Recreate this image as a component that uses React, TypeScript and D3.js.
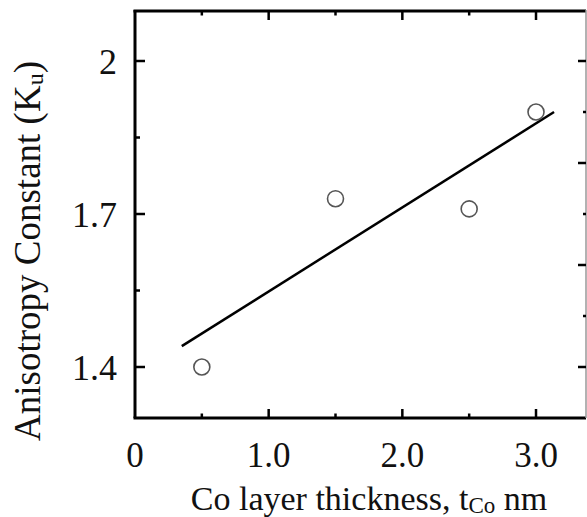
import React from "react";
import * as d3 from "d3";

const thicknessNm = [0.5, 1.5, 2.5, 3.0];
const anisotropyKu = [1.4, 1.73, 1.71, 1.9];
const fitX = [0.35, 3.135];
const fitY = [1.441, 1.9];
const xTickLabels = ["0", "1.0", "2.0", "3.0"];
const xMajorTicks = [0, 1, 2, 3];
const xMinorTicks = [0.5, 1.5, 2.5];
const yLeftMajor = [2.0, 1.7, 1.4];
const yLeftLabels = ["2", "1.7", "1.4"];
const yLeftMinor = [1.85, 1.55];
const yRightMajor = [2.0, 1.8, 1.6, 1.4];
const yRightMinor = [1.9, 1.7, 1.5];

const W = 587;
const H = 517;
const left = 135;
const right = 586;
const top = 10;
const bottom = 418;

export default function App() {
  const x = d3.scaleLinear().domain([0, 3.374]).range([left, right]);
  const y = d3.scaleLinear().domain([1.3, 2.1]).range([bottom, top]);
  const line = d3
    .line<number>()
    .x((d, i) => x(fitX[i]))
    .y((d) => y(d));
  const font = "'Liberation Serif', 'Times New Roman', serif";
  return (
    <svg
      width={W}
      height={H}
      style={{ position: "absolute", left: 0, top: 0, background: "#fff" }}
    >
      <rect x={0} y={0} width={W} height={H} fill="#fff" />
      {/* frame */}
      <line x1={left} x2={left} y1={top} y2={bottom} stroke="#000" strokeWidth={3} />
      <line x1={left - 1.5} x2={right} y1={top + 1} y2={top + 1} stroke="#000" strokeWidth={3} />
      <line x1={left - 1.5} x2={right} y1={bottom} y2={bottom} stroke="#000" strokeWidth={3} />
      <line x1={right} x2={right} y1={top} y2={bottom} stroke="#999" strokeWidth={1.5} />
      {/* x ticks */}
      {xMajorTicks.slice(1).map((t) => (
        <g key={"xM" + t}>
          <line x1={x(t)} x2={x(t)} y1={bottom} y2={bottom - 9} stroke="#000" strokeWidth={2.5} />
          <line x1={x(t)} x2={x(t)} y1={top + 1} y2={top + 10} stroke="#000" strokeWidth={2.5} />
        </g>
      ))}
      {xMinorTicks.map((t) => (
        <g key={"xm" + t}>
          <line x1={x(t)} x2={x(t)} y1={bottom} y2={bottom - 4.5} stroke="#000" strokeWidth={2.5} />
          <line x1={x(t)} x2={x(t)} y1={top + 1} y2={top + 5.5} stroke="#000" strokeWidth={2.5} />
        </g>
      ))}
      {/* y ticks left */}
      {yLeftMajor.map((t) => (
        <line key={"yl" + t} x1={left} x2={left + 10} y1={y(t)} y2={y(t)} stroke="#000" strokeWidth={2.5} />
      ))}
      {yLeftMinor.map((t) => (
        <line key={"ylm" + t} x1={left} x2={left + 5} y1={y(t)} y2={y(t)} stroke="#000" strokeWidth={2.5} />
      ))}
      {/* y ticks right */}
      {yRightMajor.map((t) => (
        <line key={"yr" + t} x1={right} x2={right - 8} y1={y(t)} y2={y(t)} stroke="#000" strokeWidth={2.5} />
      ))}
      {yRightMinor.map((t) => (
        <line key={"yrm" + t} x1={right} x2={right - 3} y1={y(t)} y2={y(t)} stroke="#000" strokeWidth={2.5} />
      ))}
      {/* tick labels */}
      {xMajorTicks.map((t, i) => (
        <text
          key={"xl" + t}
          x={x(t)}
          y={467}
          textAnchor="middle"
          fontFamily={font}
          fontSize={35}
          fill="#111"
        >
          {xTickLabels[i]}
        </text>
      ))}
      {yLeftMajor.map((t, i) => (
        <text
          key={"yll" + t}
          x={117}
          y={y(t) + 13}
          textAnchor="end"
          fontFamily={font}
          fontSize={36}
          fill="#111"
        >
          {yLeftLabels[i]}
        </text>
      ))}
      {/* axis titles */}
      <text x={369} y={510} textAnchor="middle" fontFamily={font} fontSize={34} fill="#111">
        Co layer thickness, t
        <tspan fontSize={23} dy={3}>Co</tspan>
        <tspan dy={-3}> nm</tspan>
      </text>
      <text
        transform={`translate(40, 251) rotate(-90)`}
        textAnchor="middle"
        fontFamily={font}
        fontSize={37}
        fill="#111"
      >
        Anisotropy Constant (K
        <tspan fontSize={24} dy={3}>u</tspan>
        <tspan dy={-3}>)</tspan>
      </text>
      {/* fit line */}
      <path d={line(fitY) || ""} fill="none" stroke="#000" strokeWidth={2.5} />
      {/* data points */}
      {thicknessNm.map((v, i) => (
        <circle
          key={"p" + i}
          cx={x(v)}
          cy={y(anisotropyKu[i])}
          r={8}
          fill="none"
          stroke="#555"
          strokeWidth={1.6}
        />
      ))}
    </svg>
  );
}
